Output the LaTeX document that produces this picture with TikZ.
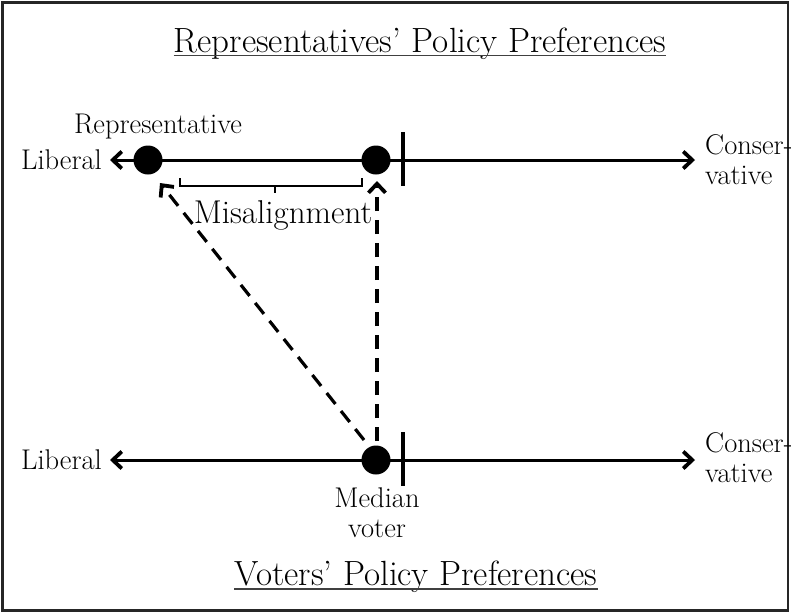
\documentclass[tikz,border=0pt]{standalone}
\usetikzlibrary{arrows.meta}
\begin{document}
\begin{tikzpicture}[x=1pt,y=-1pt,
  lbl/.style={inner sep=0pt, font=\fontsize{28.5}{30}\selectfont},
  ttl/.style={inner sep=0pt, font=\fontsize{35}{37}\selectfont},
  axisline/.style={line width=3pt, {Straight Barb[length=9pt,width=17pt,line width=3.8pt]}-{Straight Barb[length=9pt,width=17pt,line width=3.8pt]}},
  dotnode/.style={circle, fill=black, inner sep=0pt, minimum size=29pt},
  tickline/.style={line width=4pt},
  dasharrow/.style={line width=3.2pt, dash pattern=on 14pt off 9pt, -{Straight Barb[length=9pt,width=17pt,line width=3.8pt]}},
  bracel/.style={line width=1.4pt}]
\useasboundingbox (0,0) rectangle (791,613);
\draw[line width=2.5pt, black!85] (2.5,2.5) rectangle (788,610.5);

% titles
\node[ttl, anchor=base] (t1) at (420,52) {Representatives' Policy Preferences};
\draw[line width=1.3pt, black!75] ([yshift=-3.5pt]t1.base west) -- ([yshift=-3.5pt]t1.base east);
\node[ttl, anchor=base] (t2) at (416,585) {Voters' Policy Preferences};
\draw[line width=1.3pt, black!75] ([yshift=-4pt]t2.base west) -- ([yshift=-4pt]t2.base east);

% top axis
\node[lbl, anchor=east] (lib1) at (102,160) {Liberal};
\node[lbl, anchor=west, align=left] (con1) at (705,160) {Conser-\\vative};
\coordinate (a1L) at (110,160);
\coordinate (a1R) at (695,160);
\draw[axisline] (a1L) -- (a1R);
\node[dotnode] (rep) at (148,160) {};
\node[dotnode] (ideal) at (376,160) {};
\coordinate (tk1a) at (403,132);
\coordinate (tk1b) at (403,186);
\draw[tickline] (tk1a) -- (tk1b);
\node[lbl, anchor=base] (replbl) at (158,133) {Representative};

% brace
\coordinate (b1) at (180,178);
\coordinate (b2) at (180,186);
\coordinate (b3) at (362,186);
\coordinate (b4) at (362,178);
\coordinate (bm1) at (275,186);
\coordinate (bm2) at (275,193);
\draw[bracel] (b1) -- (b2) -- (b3) -- (b4);
\draw[bracel] (bm1) -- (bm2);
\node[inner sep=0pt, font=\fontsize{33}{35}\selectfont, anchor=base] (mis) at (283,223) {Misalignment};

% bottom axis
\node[lbl, anchor=east] (lib2) at (102,460) {Liberal};
\node[lbl, anchor=west, align=left] (con2) at (705,458) {Conser-\\vative};
\coordinate (a2L) at (110,460);
\coordinate (a2R) at (695,460);
\draw[axisline] (a2L) -- (a2R);
\node[dotnode] (med) at (376,460) {};
\coordinate (tk2a) at (403,432);
\coordinate (tk2b) at (403,486);
\draw[tickline] (tk2a) -- (tk2b);
\node[lbl, anchor=north, align=center] (medlbl) at (377,488) {Median\\voter};

% dashed arrows
\coordinate (d1s) at (364,440);
\coordinate (d1e) at (160,183);
\coordinate (d2s) at (377,441);
\coordinate (d2e) at (377,181);
\draw[dasharrow] (d1s) -- (d1e);
\draw[dasharrow] (d2s) -- (d2e);
\end{tikzpicture}
\end{document}
